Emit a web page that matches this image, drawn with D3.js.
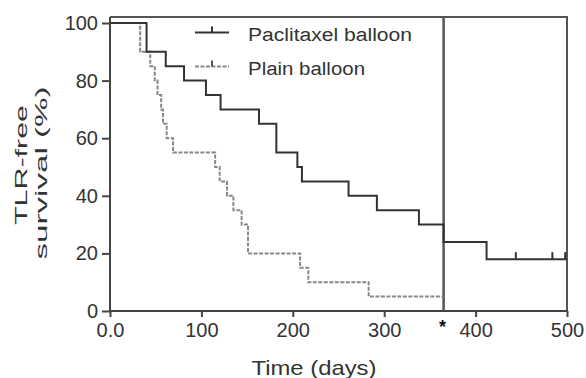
<!DOCTYPE html>
<html>
<head>
<meta charset="utf-8">
<script src="https://cdn.jsdelivr.net/npm/d3@7"></script>
<style>
  body { margin: 0; background: #fff; }
  svg { display: block; font-family: "Liberation Sans", Arial, sans-serif; }
</style>
</head>
<body>
<svg id="chart" width="586" height="378"></svg>
<script>
// step data: [day, survival %]
const paclitaxelSteps = [[0,100],[40,90],[61,85],[81,80],[105,75],[121,70],[163,65],[182,55],[205,50],[210,45],[261,40],[292,35],[338,30],[365,24],[412,18],[500,18]];
const plainSteps = [[0,100],[33,90],[44,85],[49,80],[52,75],[56,70],[58,65],[62,60],[69,55],[115,50],[120,45],[128,40],[135,35],[144,30],[151,20],[208,15],[217,10],[283,5],[365,5]];
const paclitaxelCensored = [[444,18],[484,18],[498,18]];
const xTicks = [0, 100, 200, 300, 400, 500];
const yTicks = [0, 20, 40, 60, 80, 100];
const cutoffDay = 365;

const svg = d3.select('#chart');
const x = d3.scaleLinear().domain([0, 500]).range([110, 567]);
const y = d3.scaleLinear().domain([0, 100]).range([311, 23]);
const frameTop = 17;
const ink = '#333';

// frame (top + right) and cutoff line
svg.append('path')
  .attr('d', `M${x(0)},${frameTop}H${x(500)}V${y(0)}`)
  .attr('fill', 'none').attr('stroke', '#555').attr('stroke-width', 2);
svg.append('line')
  .attr('x1', x(cutoffDay)).attr('x2', x(cutoffDay))
  .attr('y1', frameTop).attr('y2', y(0))
  .attr('stroke', '#555').attr('stroke-width', 2.5);

// axes
const xAxis = svg.append('g').attr('transform', `translate(0,${y(0)})`)
  .call(d3.axisBottom(x).tickValues(xTicks).tickSize(6).tickPadding(6)
    .tickFormat(d => d === 0 ? '0.0' : d));
const yAxis = svg.append('g').attr('transform', `translate(${x(0)},0)`)
  .call(d3.axisLeft(y).tickValues(yTicks).tickSize(8).tickPadding(4));
[xAxis, yAxis].forEach(g => {
  g.select('.domain').remove();
  g.selectAll('line').attr('stroke', '#444').attr('stroke-width', 2);
  g.selectAll('text').attr('fill', ink).style('font-size', '20px');
});
xAxis.selectAll('text').attr('dy', '0.71em').attr('y', 12);
svg.append('line').attr('x1', x(0)).attr('x2', x(500)).attr('y1', y(0)).attr('y2', y(0))
  .attr('stroke', '#444').attr('stroke-width', 2);
svg.append('line').attr('x1', x(0)).attr('x2', x(0)).attr('y1', frameTop).attr('y2', y(0))
  .attr('stroke', '#444').attr('stroke-width', 2);

// survival curves
const step = d3.line().x(d => x(d[0])).y(d => y(d[1])).curve(d3.curveStepAfter);
svg.append('path').datum(plainSteps).attr('d', step)
  .attr('fill', 'none').attr('stroke', '#888').attr('stroke-width', 2)
  .attr('stroke-dasharray', '4,1.5');
svg.append('path').datum(paclitaxelSteps).attr('d', step)
  .attr('fill', 'none').attr('stroke', ink).attr('stroke-width', 2);
svg.selectAll('.censor').data(paclitaxelCensored).join('line')
  .attr('class', 'censor')
  .attr('x1', d => x(d[0])).attr('x2', d => x(d[0]))
  .attr('y1', d => y(d[1])).attr('y2', d => y(d[1]) - 7)
  .attr('stroke', ink).attr('stroke-width', 2);

// asterisk at cutoff
svg.append('text').attr('x', x(cutoffDay) - 1).attr('y', 333)
  .attr('text-anchor', 'middle').style('font-size', '18px').style('font-weight', 'bold')
  .attr('fill', '#111').text('*');

// legend
const legend = [
  { label: 'Paclitaxel balloon', color: ink, dash: null, y: 32.5, len: 164 },
  { label: 'Plain balloon', color: '#888', dash: '4,1.5', y: 66.5, len: 117 }
];
legend.forEach(l => {
  svg.append('line').attr('x1', 195).attr('x2', 229).attr('y1', l.y).attr('y2', l.y)
    .attr('stroke', l.color).attr('stroke-width', 2).attr('stroke-dasharray', l.dash);
  svg.append('line').attr('x1', 212).attr('x2', 212).attr('y1', l.y).attr('y2', l.y - 6)
    .attr('stroke', l.color === ink ? ink : '#555').attr('stroke-width', 2);
  svg.append('text').attr('x', 248).attr('y', l.y + 8.5)
    .attr('textLength', l.len).attr('lengthAdjust', 'spacingAndGlyphs')
    .attr('fill', ink).style('font-size', '18px').text(l.label);
});

// axis titles
svg.append('text').attr('x', 314).attr('y', 375).attr('text-anchor', 'middle')
  .attr('textLength', 125).attr('lengthAdjust', 'spacingAndGlyphs')
  .attr('fill', ink).style('font-size', '21px').text('Time (days)');
svg.append('text').attr('transform', 'translate(27,165) rotate(-90)')
  .attr('text-anchor', 'middle').attr('textLength', 120).attr('lengthAdjust', 'spacingAndGlyphs')
  .attr('fill', ink).style('font-size', '17px').text('TLR-free');
svg.append('text').attr('transform', 'translate(47,173) rotate(-90)')
  .attr('text-anchor', 'middle').attr('textLength', 173).attr('lengthAdjust', 'spacingAndGlyphs')
  .attr('fill', ink).style('font-size', '17px').text('survival (%)');
</script>
</body>
</html>
